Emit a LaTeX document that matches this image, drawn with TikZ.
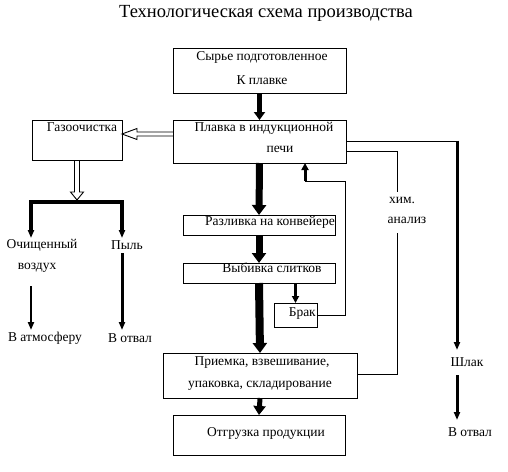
\documentclass[tikz,border=0pt]{standalone}
\usepackage{fontspec}
\setmainfont{Liberation Serif}
\usetikzlibrary{arrows.meta,calc}
\begin{document}
\begin{tikzpicture}[x=1pt,y=-1pt,
  box/.style={draw,line width=0.9pt,inner sep=0pt,outer sep=0pt},
  lbl/.style={inner sep=0pt,font=\fontsize{13.5}{15}\selectfont},
  thinl/.style={line width=0.9pt},
  mainarr/.style={line width=#1,-{Triangle[length=10pt,width=14pt]}},
  medarr/.style={line width=#1,-{Triangle[length=7pt,width=7pt]}},
  dblarr/.style={line width=0.9pt,line join=miter}]
\useasboundingbox (0,0) rectangle (508,471);
% title
\node[inner sep=0pt,font=\fontsize{18.5}{20}\selectfont] (title) at (266,13) {Технологическая схема производства};
% boxes
\node[box,minimum width=173pt,minimum height=45pt] (b1) at (259.5,70.5) {};
\node[box,minimum width=173pt,minimum height=43pt] (b2) at (259.5,141.5) {};
\node[box,minimum width=90pt,minimum height=40pt] (gaz) at (77,140) {};
\node[box,minimum width=152pt,minimum height=20pt] (razl) at (259,225) {};
\node[box,minimum width=152pt,minimum height=20pt] (vyb) at (259,273) {};
\node[box,minimum width=43pt,minimum height=24pt] (brak) at (295.5,315) {};
\node[box,minimum width=194pt,minimum height=45pt] (priem) at (260,375.5) {};
\node[box,minimum width=172pt,minimum height=40pt] (otgr) at (259,435) {};
% box texts
\node[lbl] (t1a) at (262,57) {Сырье подготовленное};
\node[lbl] (t1b) at (262,80) {К плавке};
\node[lbl] (t2a) at (264,128) {Плавка в индукционной};
\node[lbl] (t2b) at (280,149) {печи};
\node[lbl] (tg) at (82,127) {Газоочистка};
\node[lbl,anchor=east] (tr) at (335,222) {Разливка на конвейере};
\node[lbl] (tv) at (272,268) {Выбивка слитков};
\node[lbl,anchor=east] (tb) at (316,314) {Брак};
\node[lbl] (tp1) at (262,363) {Приемка, взвешивание,};
\node[lbl] (tp2) at (260,386) {упаковка, складирование};
\node[lbl] (to) at (266,433) {Отгрузка продукции};
% free texts
\node[lbl] (och) at (42,245) {Очищенный};
\node[lbl] (vozd) at (37,268) {воздух};
\node[lbl] (atm) at (45,338) {В атмосферу};
\node[lbl] (pyl) at (127,245) {Пыль};
\node[lbl] (otv1) at (130,338) {В отвал};
\node[lbl] (shl) at (467,362) {Шлак};
\node[lbl] (otv2) at (470,432) {В отвал};
\node[lbl] (him) at (402,200) {хим.};
\node[lbl] (anl) at (407,220) {анализ};
% main arrows
\draw[line width=5pt,-{Triangle[length=8pt,width=11pt]}] (b1.south) -- (b2.north);
\draw[mainarr=7pt] (b2.south) -- (razl.north);
\draw[mainarr=7pt] (razl.south) -- (vyb.north);
\draw[mainarr=8pt] (vyb.south) -- (priem.north);
\draw[line width=5pt,-{Triangle[length=9pt,width=12pt]}] (priem.south) -- (otgr.north);
% brak
\draw[medarr=2.5pt] (vyb.south -| brak.north) -- (brak.north);
\draw[thinl] (brak.east) -- (345,315) -- (345,181) -- (305,181) -- (305,176);
\draw[medarr=3pt] (305,181) -- (b2.south -| 305,0);
% double arrows from b2 to gaz and down
\draw[dblarr] (b2.west |- 0,132) -- (137,132) -- (137,128.5) -- (gaz.east |- 0,134) -- (137,139.5) -- (137,136) -- (b2.west |- 0,136);
\draw[dblarr] (74.5,160) -- (74.5,192) -- (70.5,192) -- (77,200) -- (83.5,192) -- (79.5,192) -- (79.5,160);
% gas cleaning split
\draw[line width=3.5pt,line join=miter,{Triangle[length=8pt,width=6pt]}-{Triangle[length=8pt,width=6pt]}] (31,238) -- (31,202) -- (122,202) -- (122,238);
\draw[line width=2.5pt,-{Triangle[length=8pt,width=6pt]}] (31,286) -- (31,330);
\draw[line width=3pt,-{Triangle[length=8pt,width=6pt]}] (122,253) -- (122,330);
% slag
\draw[thinl] (b2.east |- 0,141) -- (457,141);
\draw[line width=3pt,-{Triangle[length=8pt,width=6pt]}] (457,140.5) -- (457,350);
\draw[line width=3pt,-{Triangle[length=8pt,width=6pt]}] (457,375) -- (457,420);
% chem analysis
\draw[thinl] (b2.east |- 0,151) -- (397,151) -- (397,192);
\draw[thinl] (397,233) -- (397,374) -- (priem.east |- 0,374);
\end{tikzpicture}
\end{document}
